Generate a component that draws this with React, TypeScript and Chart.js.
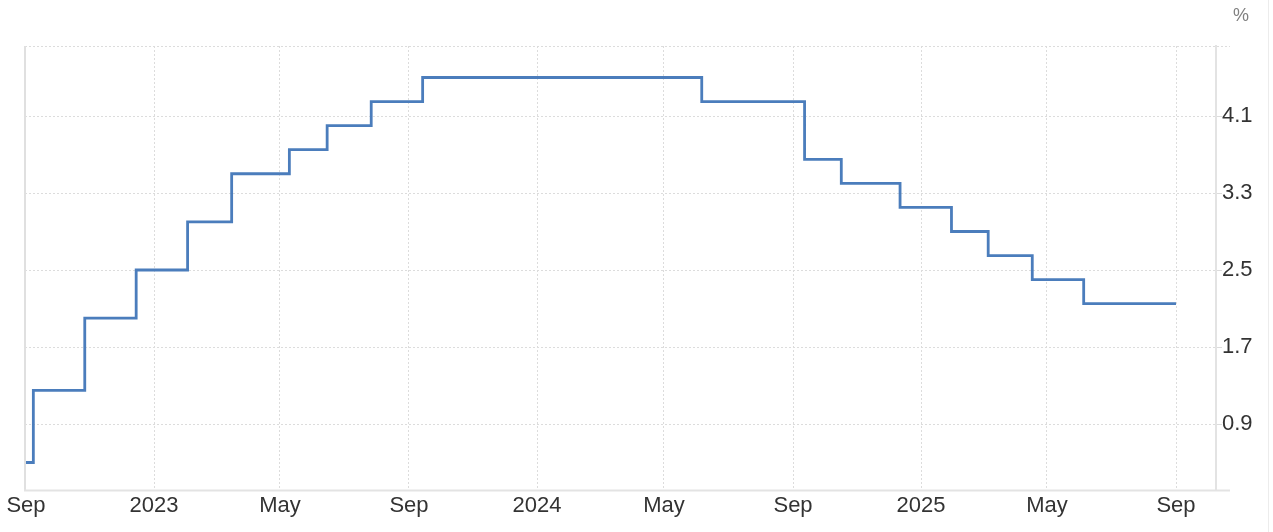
import React, { useEffect, useRef } from "react";
import { Chart, registerables } from "chart.js";

Chart.register(...registerables);

// Change dates (decision dates) and the rate that applies from each date
const rateDates = [
  "2022-09-01", "2022-09-08", "2022-10-27", "2022-12-15", "2023-02-02",
  "2023-03-16", "2023-05-10", "2023-06-15", "2023-07-27", "2023-09-14",
  "2024-06-06", "2024-09-12", "2024-10-17", "2024-12-12", "2025-01-30",
  "2025-03-06", "2025-04-17", "2025-06-05", "2025-09-01",
];
const rateValues = [
  0.5, 1.25, 2.0, 2.5, 3.0,
  3.5, 3.75, 4.0, 4.25, 4.5,
  4.25, 3.65, 3.4, 3.15, 2.9,
  2.65, 2.4, 2.15, 2.15,
];

const xTickDates = [
  "2022-09-01", "2023-01-01", "2023-05-01", "2023-09-01", "2024-01-01",
  "2024-05-01", "2024-09-01", "2025-01-01", "2025-05-01", "2025-09-01",
];
const xTickLabels = ["Sep", "2023", "May", "Sep", "2024", "May", "Sep", "2025", "May", "Sep"];
const yTickValues = [0.9, 1.7, 2.5, 3.3, 4.1];
const unitLabel = "%";

const ORIGIN = Date.UTC(2022, 8, 1);
function dayOf(s: string): number {
  const [y, m, d] = s.split("-").map(Number);
  return (Date.UTC(y, m - 1, d) - ORIGIN) / 86400000;
}

const FONT = 'Arial, "Liberation Sans", sans-serif';

export default function App() {
  const ref = useRef<HTMLCanvasElement | null>(null);

  useEffect(() => {
    document.body.style.margin = "0";
    const canvas = ref.current;
    if (!canvas) return;

    const points = rateDates.map((d, i) => ({ x: dayOf(d), y: rateValues[i] }));
    const xTicks = xTickDates.map(dayOf);
    const lastTick = xTicks[xTicks.length - 1];

    const framePlugin = {
      id: "frame",
      beforeDatasetsDraw(chart: any) {
        const { ctx, chartArea } = chart;
        const { left, right, top, bottom } = chartArea;
        ctx.save();
        // top dotted line
        ctx.strokeStyle = "#dcdcdc";
        ctx.lineWidth = 1;
        ctx.setLineDash([2, 2]);
        ctx.beginPath();
        ctx.moveTo(left, Math.round(top) + 0.5);
        ctx.lineTo(right + 14, Math.round(top) + 0.5);
        ctx.stroke();
        ctx.setLineDash([]);
        // left solid border
        ctx.strokeStyle = "#e0e0e0";
        ctx.lineWidth = 2;
        ctx.beginPath();
        ctx.moveTo(left, top);
        ctx.lineTo(left, bottom);
        ctx.stroke();
        // bottom axis line
        ctx.lineWidth = 2;
        ctx.strokeStyle = "#e3e3e3";
        ctx.beginPath();
        ctx.moveTo(left - 1, bottom + 0.5);
        ctx.lineTo(right + 14, bottom + 0.5);
        ctx.stroke();
        // far right frame line
        ctx.lineWidth = 1;
        ctx.strokeStyle = "#ececec";
        ctx.beginPath();
        ctx.moveTo(1268.5, 0);
        ctx.lineTo(1268.5, chart.height);
        ctx.stroke();
        ctx.restore();
      },
      afterDraw(chart: any) {
        const { ctx } = chart;
        ctx.save();
        ctx.fillStyle = "#808080";
        ctx.font = `18px ${FONT}`;
        ctx.textAlign = "center";
        ctx.textBaseline = "middle";
        ctx.fillText(unitLabel, 1241, 16);
        ctx.restore();
      },
    };

    const chart = new Chart(canvas, {
      type: "line",
      data: {
        datasets: [
          {
            data: points,
            stepped: true,
            borderColor: "#4b7dbc",
            borderWidth: 2.8,
            pointRadius: 0,
            fill: false,
          },
        ],
      },
      options: {
        animation: false,
        responsive: false,
        layout: { padding: { left: 25, top: 46, right: 0, bottom: 0 } },
        plugins: { legend: { display: false }, tooltip: { enabled: false } },
        scales: {
          x: {
            type: "linear",
            min: -0.953,
            max: lastTick + 38.1,
            afterBuildTicks: (scale: any) => {
              scale.ticks = xTicks.map((v) => ({ value: v }));
            },
            afterFit: (scale: any) => {
              scale.height = 42;
            },
            grid: {
              color: "#dcdcdc",
              lineWidth: 1,
              drawTicks: false,
            },
            border: { display: false, dash: [2, 2] },
            ticks: {
              autoSkip: false,
              maxRotation: 0,
              padding: 3,
              color: "#333333",
              font: { family: FONT, size: 22 },
              callback: (v: any) => {
                const i = xTicks.indexOf(Number(v));
                return i >= 0 ? xTickLabels[i] : "";
              },
            },
          },
          y: {
            type: "linear",
            position: "right",
            min: 0.9 - 66 / 96.25,
            max: 4.1 + 70 / 96.25,
            afterBuildTicks: (scale: any) => {
              scale.ticks = yTickValues.map((v) => ({ value: v }));
            },
            afterFit: (scale: any) => {
              scale.width = 57;
            },
            grid: {
              color: "#dcdcdc",
              lineWidth: 1,
              drawTicks: true,
              tickLength: 6,
            },
            border: { display: true, color: "#e3e3e3", width: 2, dash: [2, 2] },
            ticks: {
              padding: 0,
              color: "#333333",
              font: { family: FONT, size: 22 },
              callback: (v: any) => Number(v).toFixed(1),
            },
          },
        },
      },
      plugins: [framePlugin],
    });

    return () => chart.destroy();
  }, []);

  return (
    <div style={{ width: 1273, height: 532, position: "relative", background: "#fff" }}>
      <canvas ref={ref} width={1273} height={532} style={{ display: "block" }} />
    </div>
  );
}
